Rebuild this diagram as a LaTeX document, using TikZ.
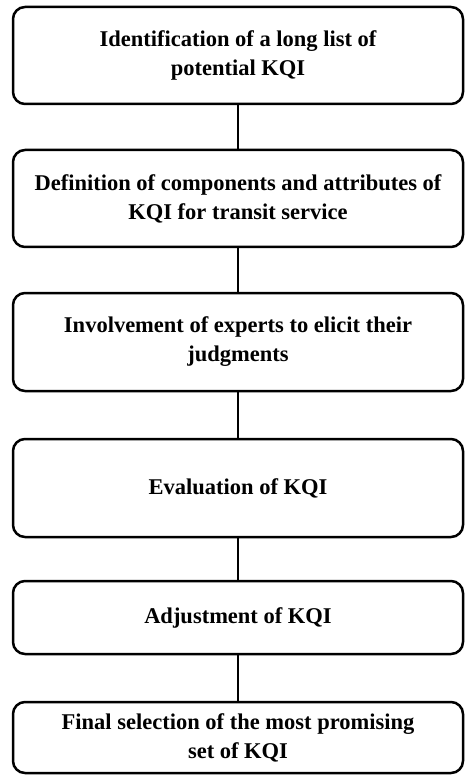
\documentclass[tikz,border=0pt]{standalone}
\usepackage{fontspec}
\setmainfont{Liberation Serif}

\begin{document}
\begin{tikzpicture}[x=1pt,y=-1pt,line width=2.5pt]

    \tikzset{
        stage/.style={draw,rounded corners=12pt,minimum width=450pt,
            inner sep=0pt,align=center,
            font=\fontsize{22.5}{29}\selectfont\bfseries},
        link/.style={line width=2.5pt}
    }

    % ============================================
    % Page frame
    % ============================================
    \useasboundingbox (0,0) rectangle (465,775);

    % ============================================
    % STAGES (top to bottom)
    % ============================================
    \node[stage,minimum height=97pt] (ident) at (238,55.5)
        {Identification of a long list of\\potential KQI};
    \node[stage,minimum height=97pt] (defin) at (238,198.5)
        {Definition of components and attributes of\\KQI for transit service};
    \node[stage,minimum height=98pt] (exper) at (238,342)
        {Involvement of experts to elicit their\\judgments};
    \node[stage,minimum height=98pt] (evalu) at (238,488)
        {Evaluation of KQI};
    \node[stage,minimum height=73pt] (adjus) at (238,617.5)
        {Adjustment of KQI};
    \node[stage,minimum height=71pt] (final) at (238,737.5)
        {Final selection of the most promising\\set of KQI};

    % ============================================
    % Links between stages
    % ============================================
    \draw[link] (ident) -- (defin);
    \draw[link] (defin) -- (exper);
    \draw[link] (exper) -- (evalu);
    \draw[link] (evalu) -- (adjus);
    \draw[link] (adjus) -- (final);

\end{tikzpicture}
\end{document}
